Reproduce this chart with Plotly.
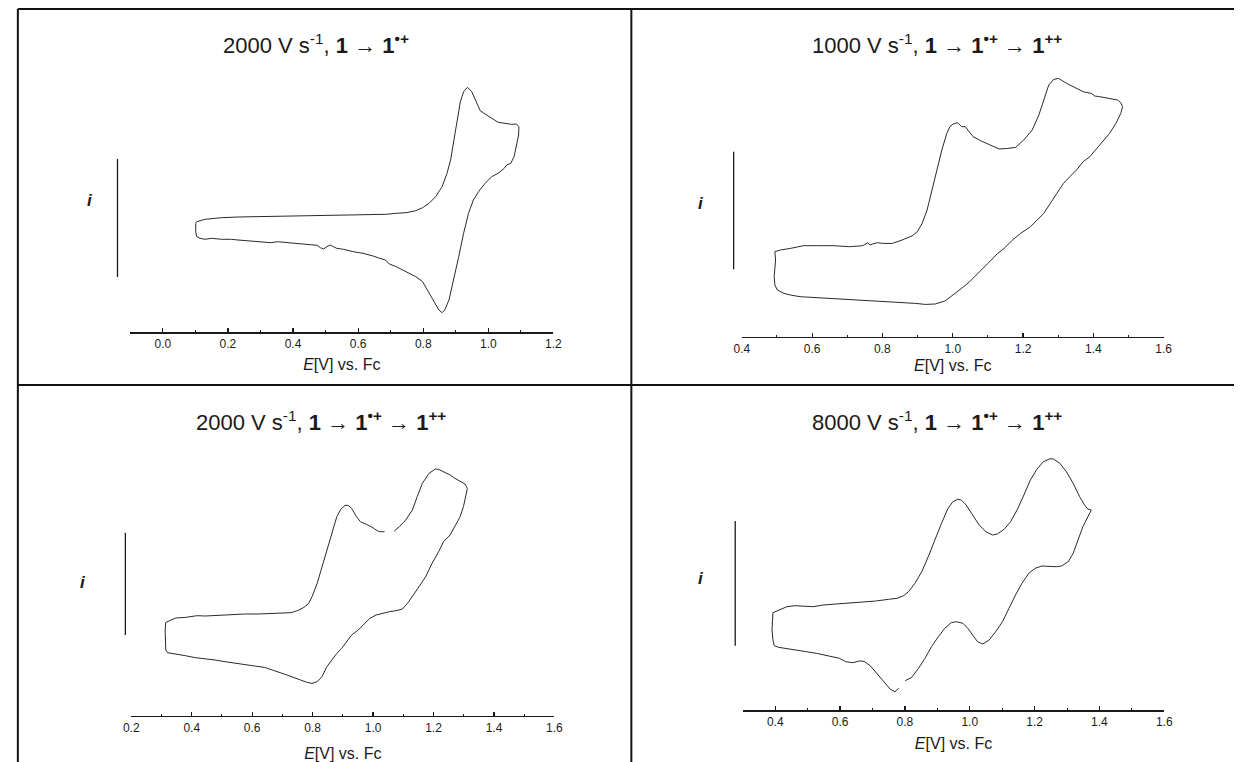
import plotly.graph_objects as go

W, H = 1243, 762

# ---------------- data (E in V vs. Fc, i in arbitrary units) ----------------
# Panel 1: 2000 V/s, 1 -> 1*+
p1_E = [0.101, 0.104, 0.130, 0.180, 0.231, 0.281, 0.332, 0.383, 0.433, 0.484, 0.534, 0.585, 0.636,
        0.686, 0.717, 0.747, 0.777, 0.798, 0.818, 0.838, 0.858, 0.873, 0.884, 0.894, 0.904, 0.914,
        0.924, 0.936, 0.949, 0.965, 0.975, 0.990, 1.010, 1.030, 1.051, 1.071, 1.086, 1.094,
        1.093, 1.086, 1.079, 1.069, 1.056, 1.049, 1.030, 1.010, 0.990, 0.970, 0.954, 0.939, 0.924,
        0.909, 0.894, 0.879, 0.866, 0.858, 0.848, 0.833, 0.818, 0.798, 0.777, 0.757, 0.737, 0.717,
        0.696, 0.684, 0.666, 0.646, 0.615, 0.585, 0.555, 0.534, 0.524, 0.514, 0.504, 0.494, 0.484,
        0.474, 0.453, 0.433, 0.413, 0.393, 0.372, 0.352, 0.332, 0.312, 0.281, 0.251, 0.231, 0.211,
        0.180, 0.150, 0.130, 0.114, 0.104, 0.101, 0.101, 0.101]
p1_i = [10.87, 11.03, 11.27, 11.43, 11.50, 11.53, 11.57, 11.57, 11.60, 11.63, 11.63, 11.73, 11.73,
        11.77, 11.87, 11.93, 12.13, 12.43, 12.87, 13.53, 14.53, 15.87, 17.20, 19.20, 21.20, 23.03,
        24.03, 24.47, 24.03, 22.87, 22.13, 21.80, 21.37, 20.97, 20.87, 20.77, 20.80, 20.53,
        19.70, 18.53, 17.53, 16.87, 16.70, 16.37, 15.87, 15.53, 14.87, 14.03, 13.20, 11.87, 9.87,
        7.53, 5.20, 3.20, 2.20, 1.93, 2.20, 3.03, 3.87, 5.03, 5.53, 5.87, 6.20, 6.53,
        6.80, 7.20, 7.37, 7.60, 7.87, 8.03, 8.27, 8.37, 8.53, 8.70, 8.53, 8.30, 8.43,
        8.67, 8.73, 8.80, 8.87, 8.87, 8.97, 9.03, 8.93, 8.97, 9.07, 9.13, 9.20, 9.27,
        9.27, 9.37, 9.27, 9.37, 9.53, 10.03, 10.53, 10.87]

# Panel 2: 1000 V/s, 1 -> 1*+ -> 1++
p2_E = [0.494, 0.510, 0.538, 0.576, 0.613, 0.660, 0.707, 0.744, 0.758, 0.765, 0.772, 0.786, 0.800,
        0.828, 0.856, 0.884, 0.899, 0.913, 0.927, 0.941, 0.955, 0.969, 0.983, 0.992, 1.001, 1.014,
        1.025, 1.036, 1.043, 1.058, 1.081, 1.109, 1.132, 1.156, 1.179, 1.202, 1.226, 1.245, 1.259,
        1.273, 1.287, 1.301, 1.324, 1.352, 1.371, 1.394, 1.404, 1.418, 1.446, 1.469, 1.478, 1.483,
        1.478, 1.464, 1.446, 1.418, 1.390, 1.371, 1.352, 1.333, 1.315, 1.296, 1.277, 1.259, 1.240,
        1.221, 1.193, 1.170, 1.146, 1.128, 1.100, 1.072, 1.048, 1.025, 1.001, 0.978, 0.950, 0.922,
        0.894, 0.856, 0.819, 0.782, 0.744, 0.707, 0.669, 0.632, 0.604, 0.566, 0.538, 0.520, 0.501,
        0.494, 0.492, 0.494, 0.496, 0.494]
p2_i = [8.50, 8.67, 8.83, 9.10, 9.10, 9.10, 9.00, 9.10, 9.40, 9.17, 9.27, 9.40, 9.33,
        9.33, 9.67, 10.07, 10.50, 11.33, 12.67, 14.67, 16.67, 18.67, 20.33, 21.00, 21.27, 21.40,
        21.00, 21.00, 20.67, 20.00, 19.57, 19.10, 18.77, 18.83, 18.93, 19.67, 20.67, 22.17, 23.67,
        25.17, 25.73, 25.83, 25.33, 24.83, 24.50, 24.33, 24.07, 24.00, 23.83, 23.67, 23.40, 23.00,
        22.33, 21.33, 20.33, 19.17, 18.00, 17.50, 16.67, 16.00, 15.33, 14.33, 13.33, 12.33, 11.67,
        11.00, 10.33, 9.67, 8.83, 8.33, 7.33, 6.33, 5.50, 4.83, 4.17, 3.57, 3.27, 3.23,
        3.33, 3.40, 3.50, 3.57, 3.67, 3.67, 3.77, 3.83, 3.93, 4.00, 4.17, 4.33, 4.67,
        5.17, 6.00, 7.00, 7.67, 8.50]

# Panel 3: 2000 V/s, 1 -> 1*+ -> 1++ (None = gap in the trace)
p3_E = [0.314, 0.331, 0.347, 0.379, 0.418, 0.445, 0.488, 0.532, 0.575, 0.619, 0.662, 0.695, 0.728,
        0.749, 0.771, 0.787, 0.798, 0.815, 0.831, 0.847, 0.864, 0.880, 0.893, 0.907, 0.918, 0.929,
        0.945, 0.958, 0.978, 0.994, 1.010, 1.021, 1.038, None, 1.070, 1.087, 1.108, 1.130, 1.146,
        1.163, 1.185, 1.206, 1.217, 1.233, 1.255, 1.271, 1.288, 1.304, 1.312,
        1.307, 1.299, 1.288, 1.271, 1.255, 1.233, 1.217, 1.195, 1.174, 1.152, 1.136, 1.114, 1.097,
        1.076, 1.054, 1.032, 1.010, 0.989, 0.972, 0.951, 0.929, 0.913, 0.896, 0.880, 0.864, 0.847,
        0.831, 0.815, 0.798, 0.782, 0.760, 0.733, 0.706, 0.673, 0.641, 0.608, 0.575, 0.543, 0.510,
        0.477, 0.445, 0.412, 0.379, 0.347, 0.320, 0.314, 0.312, 0.312, 0.314]
p3_i = [9.33, 9.57, 9.77, 9.83, 10.00, 9.97, 10.03, 10.13, 10.17, 10.17, 10.23, 10.30, 10.30,
        10.50, 10.83, 11.23, 11.90, 13.23, 14.90, 16.57, 18.23, 19.90, 20.63, 21.03, 21.03, 20.73,
        19.90, 19.40, 19.13, 18.90, 18.57, 18.40, 18.40, None, 18.47, 18.90, 19.57, 20.57, 21.90,
        23.23, 24.23, 24.67, 24.63, 24.40, 24.07, 23.73, 23.40, 23.17, 22.73,
        21.90, 20.90, 19.90, 18.90, 18.07, 17.40, 16.40, 15.23, 13.90, 12.90, 12.23, 11.23, 10.67,
        10.50, 10.40, 10.23, 10.07, 9.73, 9.23, 8.57, 8.07, 7.40, 6.73, 6.23, 5.57, 4.90,
        3.90, 3.40, 3.23, 3.33, 3.57, 3.90, 4.17, 4.50, 4.83, 4.97, 5.10, 5.23, 5.40,
        5.57, 5.67, 5.80, 6.00, 6.17, 6.30, 6.57, 7.57, 8.57, 9.33]

# Panel 4: 8000 V/s, 1 -> 1*+ -> 1++ (None = gap in the trace)
p4_E = [0.393, 0.410, 0.436, 0.461, 0.486, 0.517, 0.547, 0.588, 0.628, 0.669, 0.710, 0.750, 0.776,
        0.796, 0.811, 0.831, 0.852, 0.872, 0.892, 0.913, 0.933, 0.948, 0.963, 0.974, 0.989, 1.009,
        1.029, 1.050, 1.070, 1.085, 1.106, 1.126, 1.146, 1.167, 1.187, 1.207, 1.227, 1.248, 1.258,
        1.278, 1.298, 1.319, 1.339, 1.354, 1.364, 1.375,
        1.364, 1.349, 1.334, 1.319, 1.304, 1.283, 1.268, 1.248, 1.222, 1.202, 1.182, 1.161, 1.141,
        1.121, 1.101, 1.080, 1.060, 1.040, 1.024, 1.009, 0.994, 0.979, 0.958, 0.943, 0.923, 0.903,
        0.882, 0.862, 0.842, 0.821, 0.801, None, 0.781, 0.769, 0.755, 0.735, 0.715, 0.694, 0.674,
        0.659, 0.639, 0.618, 0.598, 0.578, 0.557, 0.527, 0.496, 0.466, 0.436, 0.410, 0.397, 0.393,
        0.390, 0.391, 0.393]
p4_i = [9.73, 10.00, 10.33, 10.43, 10.40, 10.33, 10.50, 10.60, 10.67, 10.77, 10.90, 11.07, 11.17,
        11.43, 11.83, 12.67, 13.83, 15.33, 17.00, 18.67, 20.17, 20.83, 21.07, 21.00, 20.50, 19.50,
        18.50, 17.83, 17.50, 17.60, 18.07, 18.83, 20.00, 21.50, 23.00, 24.07, 24.83, 25.13, 25.10,
        24.67, 23.83, 22.67, 21.33, 20.50, 20.10, 20.00,
        19.33, 18.33, 17.00, 15.67, 14.83, 14.40, 14.33, 14.33, 14.40, 14.17, 13.67, 12.67, 11.50,
        10.17, 8.83, 7.83, 7.00, 6.60, 6.83, 7.50, 8.17, 8.67, 8.83, 8.73, 8.17, 7.33,
        6.33, 5.17, 4.17, 3.27, 2.93, None, 2.17, 1.83, 2.07, 2.83, 3.67, 4.40, 4.87,
        4.90, 4.73, 4.83, 5.17, 5.33, 5.50, 5.67, 5.83, 6.00, 6.10, 6.27, 6.43, 7.00,
        8.00, 9.00, 9.73]

# tick labels
p1_ticks = [0.0, 0.2, 0.4, 0.6, 0.8, 1.0, 1.2]
p2_ticks = [0.4, 0.6, 0.8, 1.0, 1.2, 1.4, 1.6]
p3_ticks = [0.2, 0.4, 0.6, 0.8, 1.0, 1.2, 1.4, 1.6]
p4_ticks = [0.4, 0.6, 0.8, 1.0, 1.2, 1.4, 1.6]
p1_minor = [0.1, 0.3, 0.5, 0.7, 0.9, 1.1]
p2_minor = [0.5, 0.7, 0.9, 1.1, 1.3, 1.5]
p3_minor = [0.3, 0.5, 0.7, 0.9, 1.1, 1.3, 1.5]
p4_minor = [0.5, 0.7, 0.9, 1.1, 1.3, 1.5]

titles = [
    "2000 V s<sup>-1</sup>, <b>1</b> \u2192 <b>1</b><sup><b>\u2022+</b></sup>",
    "1000 V s<sup>-1</sup>, <b>1</b> \u2192 <b>1</b><sup><b>\u2022+</b></sup> \u2192 <b>1</b><sup><b>++</b></sup>",
    "2000 V s<sup>-1</sup>, <b>1</b> \u2192 <b>1</b><sup><b>\u2022+</b></sup> \u2192 <b>1</b><sup><b>++</b></sup>",
    "8000 V s<sup>-1</sup>, <b>1</b> \u2192 <b>1</b><sup><b>\u2022+</b></sup> \u2192 <b>1</b><sup><b>++</b></sup>",
]
x_title = "<i>E</i>[V] vs. Fc"

# ---------------- layout (pixel geometry) ----------------
FONT = "Liberation Sans, Arial, sans-serif"
INK = "#1a1a1a"

panels = [
    dict(E=p1_E, i=p1_i, ticks=p1_ticks, minor=p1_minor, xr=[-0.1, 1.2], px=(124, 553), py=(332, 60),
         bar=(111, 159, 277), ilab=(83, 201), title=(312, 44), standoff=9),
    dict(E=p2_E, i=p2_i, ticks=p2_ticks, minor=p2_minor, xr=[0.4, 1.6], px=(744, 1171.7), py=(336.7, 60),
         bar=(735.7, 151.7, 269.3), ilab=(703, 203), title=(942, 44), standoff=5),
    dict(E=p3_E, i=p3_i, ticks=p3_ticks, minor=p3_minor, xr=[0.2, 1.6], px=(125, 554), py=(715.7, 440),
         bar=(119, 532.7, 635), ilab=(76, 582), title=(317, 421), standoff=15),
    dict(E=p4_E, i=p4_i, ticks=p4_ticks, minor=p4_minor, xr=[0.3, 1.6], px=(745, 1172.3), py=(710, 440),
         bar=(737.3, 521, 645.7), ilab=(703, 578), title=(942, 421), standoff=10),
]

def fx(p):
    return p / W

def fy(p):
    return 1 - p / H

fig = go.Figure()
layout = dict(
    width=W, height=H, margin=dict(l=0, r=0, t=0, b=0),
    paper_bgcolor="white", plot_bgcolor="rgba(0,0,0,0)", showlegend=False,
    font=dict(family=FONT, color=INK, size=13),
)
annotations = []
shapes = []

for k, p in enumerate(panels, start=1):
    sfx = "" if k == 1 else str(k)
    fig.add_trace(go.Scatter(x=p["E"], y=p["i"], mode="lines", xaxis="x" + sfx, yaxis="y" + sfx,
                             line=dict(color="#2a2a2a", width=1), connectgaps=False,
                             hoverinfo="skip"))
    ybot, ytop = p["py"]
    layout["xaxis" + sfx] = dict(
        domain=[fx(p["px"][0]), fx(p["px"][1])], range=p["xr"], anchor="y" + sfx,
        showline=True, linecolor=INK, linewidth=1.5, showgrid=False, zeroline=False,
        ticks="inside", ticklen=4, tickwidth=1.2, tickcolor=INK,
        tickvals=p["ticks"], ticktext=["%.1f" % v for v in p["ticks"]],
        tickfont=dict(family=FONT, size=12, color=INK),
        minor=dict(ticks="inside", ticklen=2, tickwidth=1, tickcolor=INK, tickvals=p["minor"], showgrid=False),
        title=dict(text=x_title, font=dict(family=FONT, size=16, color=INK), standoff=p["standoff"]),
        fixedrange=True,
    )
    layout["yaxis" + sfx] = dict(
        domain=[fy(ybot), fy(ytop)], range=[0, (ybot - ytop) / 10.0], anchor="x" + sfx,
        visible=False, fixedrange=True,
    )
    # current scale bar
    bx, b0, b1 = p["bar"]
    shapes.append(dict(type="line", xref="paper", yref="paper", x0=fx(bx), x1=fx(bx), y0=fy(b0), y1=fy(b1),
                       line=dict(color=INK, width=1.3)))
    annotations.append(dict(text="<b><i>i</i></b>", xref="paper", yref="paper", x=fx(p["ilab"][0]), y=fy(p["ilab"][1]),
                            showarrow=False, font=dict(family=FONT, size=17, color=INK),
                            xanchor="center", yanchor="middle"))
    annotations.append(dict(text=titles[k - 1], xref="paper", yref="paper", x=fx(p["title"][0]), y=fy(p["title"][1]),
                            showarrow=False, font=dict(family=FONT, size=22, color=INK),
                            xanchor="center", yanchor="middle"))

# frame lines of the figure grid
for (x0, y0, x1, y1) in [(10, 9, 1243, 9), (10, 9, 10, 762), (632, 9, 632, 762), (10, 385, 1243, 385)]:
    shapes.append(dict(type="line", xref="paper", yref="paper", x0=fx(x0), x1=fx(x1), y0=fy(y0), y1=fy(y1),
                       line=dict(color="#111111", width=2)))

layout["shapes"] = shapes
layout["annotations"] = annotations
fig.update_layout(**layout)
fig.write_html("out.html", config={"displayModeBar": False, "staticPlot": True},
               post_script="document.body.style.margin='0px';")
